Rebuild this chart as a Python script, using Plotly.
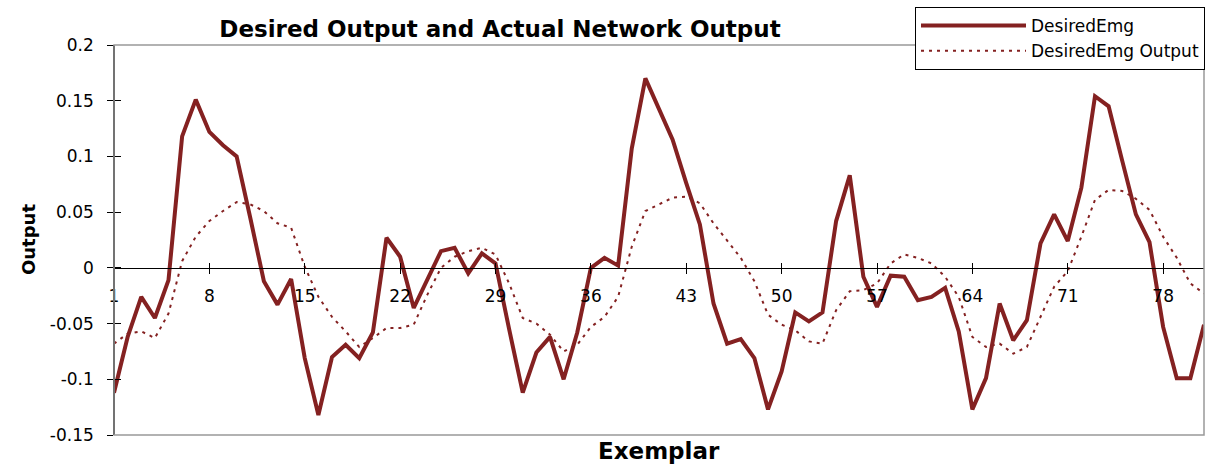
import plotly.graph_objects as go

# exemplar index (category axis)
exemplar = list(range(1, 82))

desired_emg = [
    -0.112, -0.062, -0.026, -0.045, -0.011, 0.118, 0.151, 0.122, 0.110, 0.100,
    0.045, -0.012, -0.033, -0.010, -0.081, -0.132, -0.080, -0.069, -0.081, -0.058,
    0.027, 0.010, -0.036, -0.011, 0.015, 0.018, -0.005, 0.013, 0.004, -0.055,
    -0.112, -0.076, -0.062, -0.100, -0.058, 0.000, 0.009, 0.002, 0.107, 0.170,
    0.143, 0.115, 0.076, 0.039, -0.032, -0.068, -0.064, -0.081, -0.127, -0.093,
    -0.040, -0.048, -0.040, 0.042, 0.083, -0.008, -0.035, -0.007, -0.008, -0.029,
    -0.026, -0.018, -0.057, -0.127, -0.099, -0.032, -0.065, -0.047, 0.022, 0.048,
    0.024, 0.072, 0.154, 0.145, 0.096, 0.048, 0.023, -0.053, -0.099, -0.099,
    -0.051,
]

network_output = [
    -0.068, -0.059, -0.057, -0.063, -0.041, 0.006, 0.028, 0.042, 0.051, 0.059,
    0.057, 0.051, 0.040, 0.036, 0.001, -0.026, -0.044, -0.057, -0.071, -0.063,
    -0.054, -0.054, -0.051, -0.024, 0.000, 0.010, 0.015, 0.018, 0.012, -0.014,
    -0.045, -0.050, -0.060, -0.075, -0.069, -0.053, -0.044, -0.026, 0.019, 0.051,
    0.057, 0.063, 0.064, 0.058, 0.040, 0.024, 0.009, -0.012, -0.042, -0.051,
    -0.056, -0.066, -0.068, -0.038, -0.021, -0.020, -0.014, 0.004, 0.012, 0.009,
    0.004, -0.008, -0.026, -0.062, -0.071, -0.068, -0.077, -0.071, -0.044, -0.017,
    -0.003, 0.028, 0.061, 0.070, 0.069, 0.062, 0.052, 0.028, 0.009, -0.014,
    -0.023,
]

x_ticks = [1, 8, 15, 22, 29, 36, 43, 50, 57, 64, 71, 78]
y_ticks = [-0.15, -0.1, -0.05, 0, 0.05, 0.1, 0.15, 0.2]
y_ticktext = ["-0.15", "-0.1", "-0.05", "0", "0.05", "0.1", "0.15", "0.2"]

RED = "#842121"
FONT = "DejaVu Sans"
Y_RANGE = [-0.15, 0.2]
X_RANGE = [1, 81]
zero_pos = (0 - Y_RANGE[0]) / (Y_RANGE[1] - Y_RANGE[0])

fig = go.Figure()

fig.add_trace(go.Scatter(
    x=exemplar, y=desired_emg, mode="lines", name="DesiredEmg",
    line=dict(color=RED, width=4),
))
fig.add_trace(go.Scatter(
    x=exemplar, y=network_output, mode="lines", name="DesiredEmg Output",
    line=dict(color=RED, width=2, dash="3px,5px"),
))
# dummy trace so the overlay axes (for crossing tick marks) get drawn
fig.add_trace(go.Scatter(
    x=[None], y=[None], xaxis="x2", yaxis="y2",
    showlegend=False, hoverinfo="skip",
))

axis_font = dict(family=FONT, size=17, color="black")

fig.update_layout(
    width=1215, height=468,
    paper_bgcolor="white", plot_bgcolor="white",
    # fixed margins: the legend sits over the top edge and must not push them
    margin=dict(l=114, r=11, t=45, b=33, autoexpand=False),
    font=dict(family=FONT, color="black"),
    title=dict(
        text="<b>Desired Output and Actual Network Output</b>",
        font=dict(family=FONT, size=23, color="black"),
        xref="container", x=500 / 1215, xanchor="center",
        yref="container", y=1 - 29 / 468, yanchor="middle",
    ),
    xaxis=dict(
        range=X_RANGE, tickvals=x_ticks, ticks="outside", ticklen=5,
        tickcolor="black", showline=True, linecolor="black", linewidth=1,
        anchor="free", position=zero_pos, showgrid=False, zeroline=False,
        tickfont=axis_font, ticklabelstandoff=8,
    ),
    xaxis2=dict(
        range=X_RANGE, tickvals=x_ticks, ticks="inside", ticklen=5,
        tickcolor="black", overlaying="x", anchor="free", position=zero_pos,
        showticklabels=False, showline=False, showgrid=False, zeroline=False,
    ),
    yaxis=dict(
        range=Y_RANGE, tickvals=y_ticks, ticktext=y_ticktext,
        ticks="outside", ticklen=6, tickcolor="black",
        showline=True, linecolor="black", linewidth=1.5,
        anchor="free", position=0, showgrid=False, zeroline=False,
        tickfont=axis_font, ticklabelstandoff=10,
    ),
    yaxis2=dict(
        range=Y_RANGE, tickvals=y_ticks, ticks="inside", ticklen=6,
        tickcolor="black", overlaying="y", anchor="free", position=0,
        showticklabels=False, showline=False, showgrid=False, zeroline=False,
    ),
    legend=dict(
        x=(1205 - 114) / 1090, xanchor="right",
        y=(435 - 7) / 390, yanchor="top",
        bgcolor="white", bordercolor="black", borderwidth=1,
        font=dict(family=FONT, size=17, color="black"),
        itemwidth=105, tracegroupgap=0,
    ),
    # gray frame round the plot area (the y axis line sits on its left side)
    shapes=[dict(
        type="rect", xref="paper", yref="paper",
        x0=0, x1=1, y0=0, y1=1, layer="above",
        line=dict(color="#999999", width=1.5),
    )],
    annotations=[
        dict(
            text="<b>Output</b>", textangle=-90, showarrow=False,
            xref="paper", yref="paper",
            x=(28 - 114) / 1090, y=0.5, xanchor="center", yanchor="middle",
            font=dict(family=FONT, size=18, color="black"),
        ),
        dict(
            text="<b>Exemplar</b>", showarrow=False,
            xref="paper", yref="paper",
            x=0.5, y=(435 - 451) / 390, xanchor="center", yanchor="middle",
            font=dict(family=FONT, size=23, color="black"),
        ),
    ],
)

# the page body has a default 8px margin; drop it so the chart fills the window
fig.write_html(
    "out.html",
    config={"displayModeBar": False},
    post_script="document.body.style.margin = '0';",
)
